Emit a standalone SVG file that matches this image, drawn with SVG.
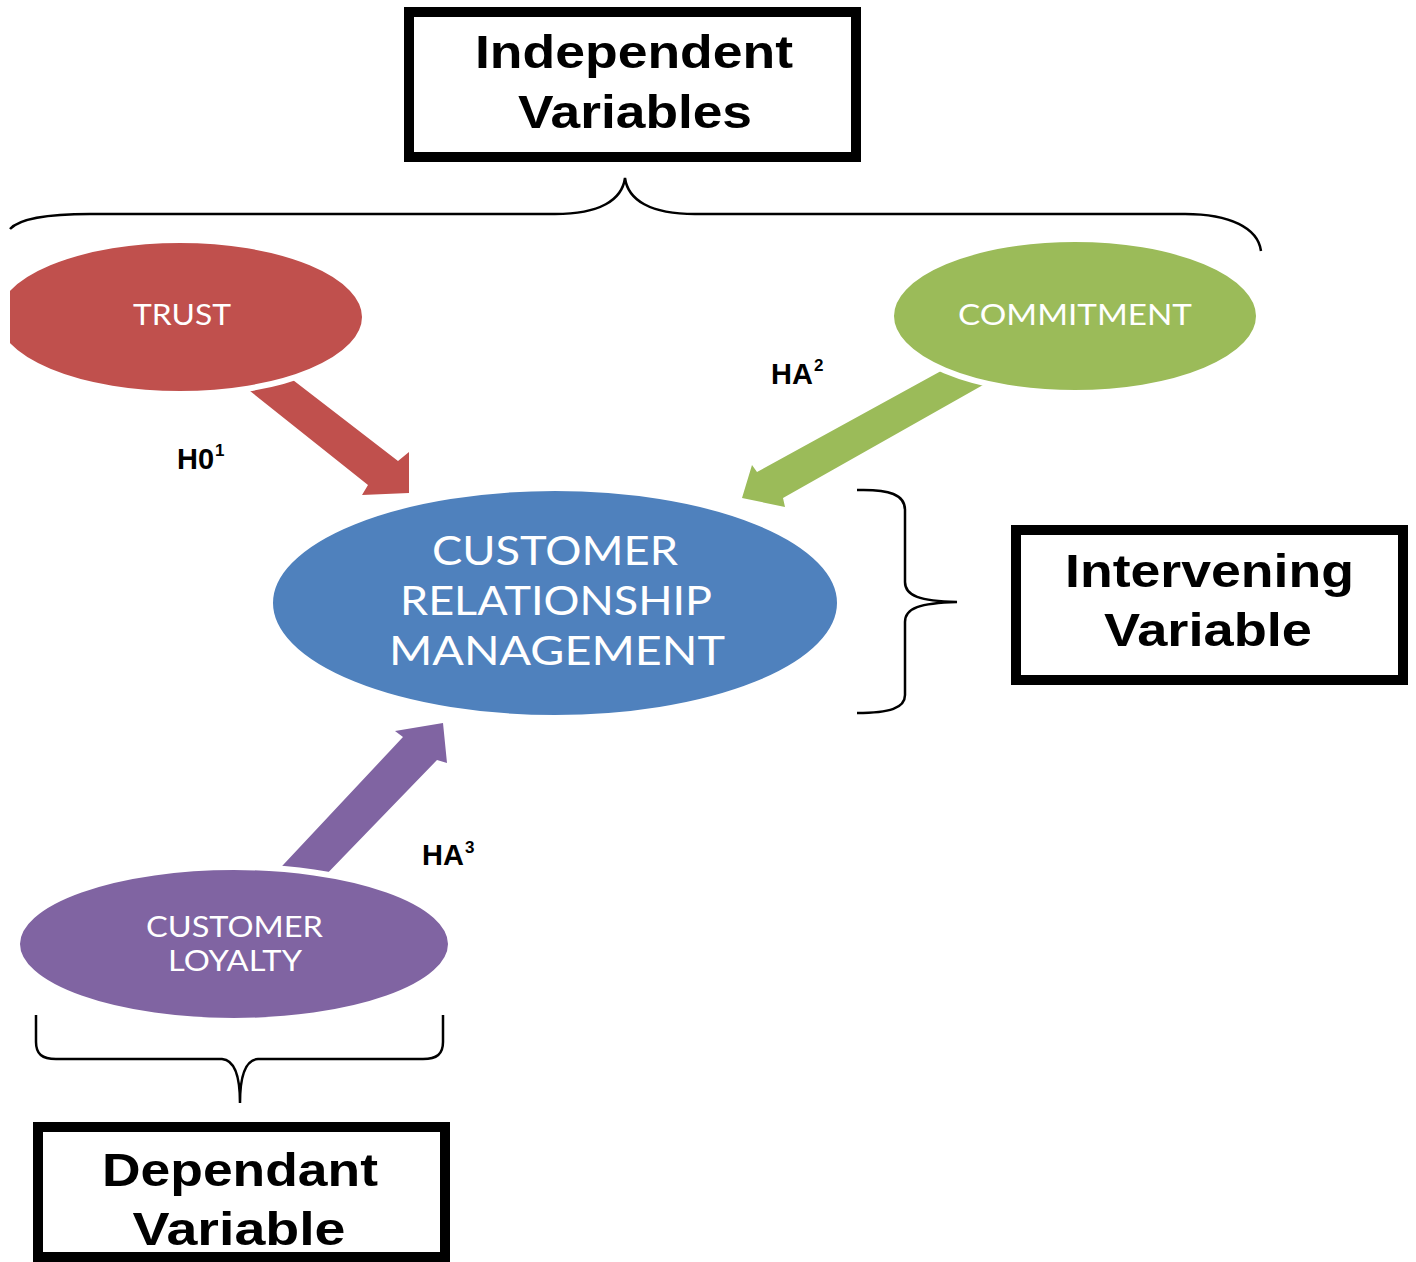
<svg xmlns="http://www.w3.org/2000/svg" width="1416" height="1262" viewBox="0 0 1416 1262">
<style>
.box{fill:#fff;stroke:#000;stroke-width:10}
.bt{font-family:"Liberation Sans",Arial,sans-serif;font-weight:bold;font-size:47px;fill:#000;text-anchor:middle}
.et{font-family:Lato,"Open Sans",sans-serif;fill:#fff;text-anchor:middle}
.lbl{font-family:"Liberation Sans",Arial,sans-serif;font-weight:bold;font-size:29px;fill:#000}
.sup{font-size:17px}
.brace{fill:none;stroke:#000;stroke-width:2.5}
.node{stroke:#fff;stroke-width:6}
</style>
<defs>
<clipPath id="leftclip"><rect x="10" y="0" width="1406" height="1262"/></clipPath>
</defs>
<rect width="1416" height="1262" fill="#fff"/>

<g id="braces">
<path class="brace" d="M10,229 C20,218 50,214 90,214 L555,214 C600,214 622,200 625,178 C628,200 650,214 695,214 L1185,214 C1230,214 1258,228 1261,251"/>
<path class="brace" d="M857,490 C890,489 905,495 905,510 L905,582 C905,596 920,601 957,602 C920,603 905,608 905,622 L905,695 C905,708 890,713 857,713"/>
<path class="brace" d="M36,1015 L36,1042 C36,1054 42,1059 56,1059 L222,1059 C234,1060 240,1075 240,1103 C240,1075 246,1060 258,1059 L423,1059 C437,1059 443,1054 443,1042 L443,1015"/>
</g>

<g id="connectors">
<polygon fill="#c0504d" points="230,375 368,485 362,495 409,493 409,452 398,461 267,360"/>
<polygon fill="#9bbb59" points="972,354 757,472 752,465 742,498 785,507 783,498 1006,372"/>
<polygon fill="#8064a2" points="443,723 395,731 403,737 269,880 318,883 437,760 447,763"/>
<text class="lbl" x="177" y="469">H0<tspan class="sup" dx="1" dy="-13">1</tspan></text>
<text class="lbl" x="771" y="384">HA<tspan class="sup" dx="1" dy="-13">2</tspan></text>
<text class="lbl" x="422" y="865">HA<tspan class="sup" dx="1" dy="-12">3</tspan></text>
</g>

<g id="node-independent">
<rect class="box" x="409" y="12" width="447" height="145"/>
<text class="bt" x="634" y="68" textLength="318" lengthAdjust="spacingAndGlyphs">Independent</text>
<text class="bt" x="635" y="128" textLength="234" lengthAdjust="spacingAndGlyphs">Variables</text>
</g>

<g id="node-trust">
<ellipse class="node" clip-path="url(#leftclip)" cx="180" cy="317" rx="185" ry="77" fill="#c0504d"/>
<text class="et" x="182" y="325" font-size="28" textLength="98" lengthAdjust="spacingAndGlyphs">TRUST</text>
</g>

<g id="node-commitment">
<ellipse class="node" cx="1075" cy="316" rx="184" ry="77" fill="#9bbb59"/>
<text class="et" x="1075" y="325" font-size="28" textLength="234" lengthAdjust="spacingAndGlyphs">COMMITMENT</text>
</g>

<g id="node-crm">
<ellipse class="node" cx="555" cy="603" rx="285" ry="115" fill="#4f81bd"/>
<text class="et" x="555" y="565" font-size="40" textLength="246" lengthAdjust="spacingAndGlyphs">CUSTOMER</text>
<text class="et" x="556" y="615" font-size="40" textLength="312" lengthAdjust="spacingAndGlyphs">RELATIONSHIP</text>
<text class="et" x="557" y="665" font-size="40" textLength="336" lengthAdjust="spacingAndGlyphs">MANAGEMENT</text>
</g>

<g id="node-loyalty">
<ellipse class="node" cx="234" cy="944" rx="217" ry="77" fill="#8064a2"/>
<text class="et" x="234.5" y="937" font-size="28" textLength="177" lengthAdjust="spacingAndGlyphs">CUSTOMER</text>
<text class="et" x="235" y="971" font-size="28" textLength="134" lengthAdjust="spacingAndGlyphs">LOYALTY</text>
</g>

<g id="node-intervening">
<rect class="box" x="1016" y="530" width="387" height="150"/>
<text class="bt" x="1209.5" y="587" textLength="289" lengthAdjust="spacingAndGlyphs">Intervening</text>
<text class="bt" x="1208" y="646" textLength="208" lengthAdjust="spacingAndGlyphs">Variable</text>
</g>

<g id="node-dependant">
<rect class="box" x="38" y="1127" width="407" height="130"/>
<text class="bt" x="240" y="1186" textLength="276" lengthAdjust="spacingAndGlyphs">Dependant</text>
<text class="bt" x="239" y="1245" textLength="213" lengthAdjust="spacingAndGlyphs">Variable</text>
</g>
</svg>
